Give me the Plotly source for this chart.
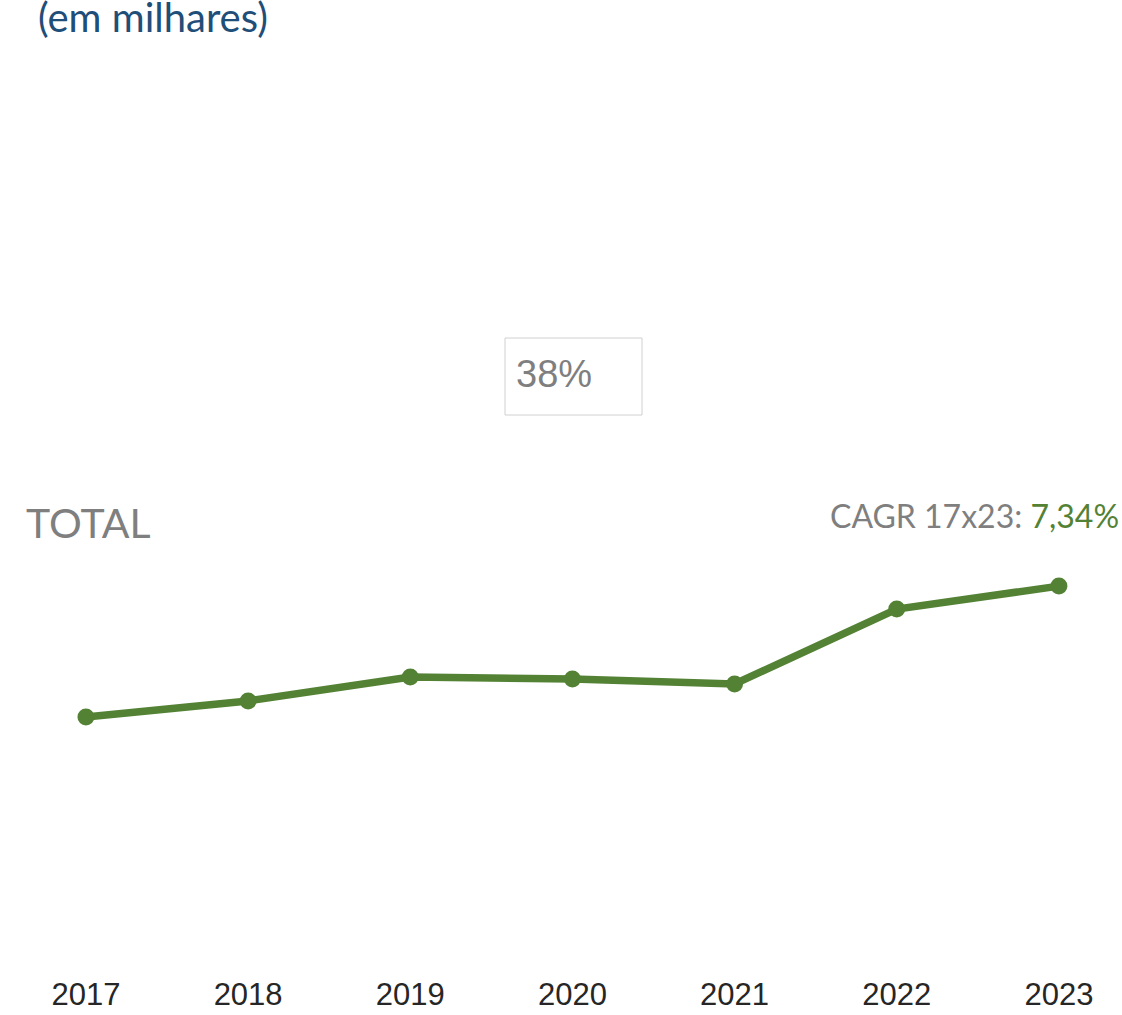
import plotly.graph_objects as go

years = [2017, 2018, 2019, 2020, 2021, 2022, 2023]
year_labels = ["2017", "2018", "2019", "2020", "2021", "2022", "2023"]
total = [100.0, 106.5, 116.2, 115.4, 113.4, 143.7, 153.0]

title_text = "(em milhares)"
share_text = "38%"
series_label = "TOTAL"
cagr_label = "CAGR 17x23: "
cagr_value = "7,34%"

W, H = 1122, 1015
B = 40
PH = H - B

def px(x):
    return x / W

def py(y):
    return 1 - y / PH

GREEN = "#548235"
GRAY = "#7f7f7f"

fig = go.Figure()
fig.add_trace(go.Scatter(
    x=years, y=total, mode="lines+markers",
    line=dict(color=GREEN, width=7.5),
    marker=dict(color=GREEN, size=17),
    hoverinfo="skip", showlegend=False,
))

fig.update_layout(
    width=W, height=H,
    margin=dict(l=0, r=0, t=0, b=B, pad=0),
    paper_bgcolor="white", plot_bgcolor="white",
    xaxis=dict(range=[2016.470, 2023.389], tickvals=years, ticktext=year_labels,
               showgrid=False, zeroline=False, showline=False, ticks="",
               ticklabelstandoff=-2,
               tickfont=dict(family="Liberation Sans, Arial", size=31, color="#262626")),
    yaxis=dict(range=[-4.45, 390.28], visible=False, showgrid=False, zeroline=False),
    shapes=[dict(type="rect", xref="paper", yref="paper",
                 x0=px(505), x1=px(642), y0=py(415), y1=py(338),
                 line=dict(color="#d0d0d0", width=1), fillcolor="white", layer="below")],
    annotations=[
        dict(text=title_text, xref="paper", yref="paper", x=px(36), y=py(17),
             xanchor="left", yanchor="middle", showarrow=False,
             font=dict(family="Lato", size=40, color="#1F4E79")),
        dict(text=share_text, xref="paper", yref="paper", x=px(514), y=py(374),
             xanchor="left", yanchor="middle", showarrow=False,
             font=dict(family="Liberation Sans, Arial", size=38, color=GRAY)),
        dict(text=series_label, xref="paper", yref="paper", x=px(24), y=py(522),
             xanchor="left", yanchor="middle", showarrow=False,
             font=dict(family="Lato", size=41, color=GRAY)),
        dict(text=cagr_label + "<span style='color:%s'>%s</span>" % (GREEN, cagr_value),
             xref="paper", yref="paper", x=px(1121), y=py(515),
             xanchor="right", yanchor="middle", showarrow=False,
             font=dict(family="Lato", size=32, color=GRAY)),
    ],
)

fig.write_html("out.html", config={"displayModeBar": False},
               post_script="document.body.style.margin='0';")
